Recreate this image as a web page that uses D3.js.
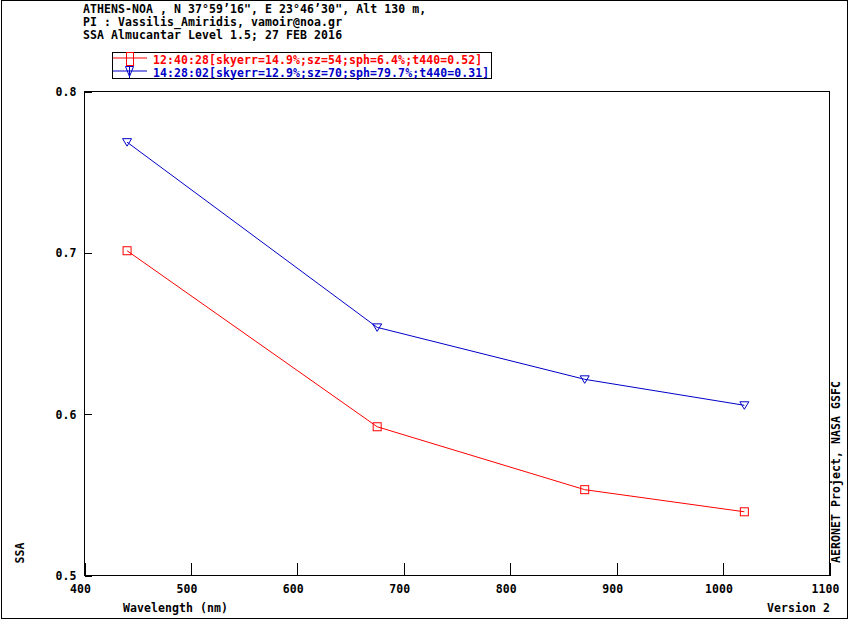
<!DOCTYPE html>
<html lang="en">

<head>
    <meta charset="UTF-8">
    <title>SSA Almucantar - ATHENS-NOA</title>
    <style>
        * {
            margin: 0;
            padding: 0;
        }

        html,
        body {
            overflow: hidden;
            background: #fff;
        }

        text {
            font-family: "DejaVu Sans Mono", monospace;
            font-weight: bold;
            font-size: 11.5px;
            letter-spacing: 0.08px;
        }
    </style>
</head>

<body>
    <div id="chart"></div>
    <script src="https://cdn.jsdelivr.net/npm/d3@7"></script>
    <script>
        // data
        const wavelengths = [440, 675, 870, 1020]
        const ssa1240 = [0.7013, 0.5922, 0.5532, 0.5395]
        const ssa1428 = [0.7686, 0.6538, 0.6216, 0.6055]
        const seriesNames = [
            '12:40:28[skyerr=14.9%;sz=54;sph=6.4%;t440=0.52]',
            '14:28:02[skyerr=12.9%;sz=70;sph=79.7%;t440=0.31]'
        ]
        const xTicks = [400, 500, 600, 700, 800, 900, 1000, 1100]
        const yTicks = [0.5, 0.6, 0.7, 0.8]
        const headerLines = [
            'ATHENS-NOA , N 37°59’16", E 23°46’30", Alt 130 m,',
            'PI : Vassilis_Amiridis, vamoir@noa.gr',
            'SSA Almucantar Level 1.5; 27 FEB 2016'
        ]

        function drawChart() {
            const width = 850
            const height = 620
            const svg = d3.select('#chart')
                .append('svg')
                .attr('width', width)
                .attr('height', height)

            // outer frame
            svg.append('rect')
                .attr('x', 1.5).attr('y', 0.5)
                .attr('width', 846).attr('height', 618)
                .attr('fill', 'none').attr('stroke', '#000')

            const left = 84.5, right = 829.5, top = 91.5, bottom = 575.5
            const x = d3.scaleLinear().domain([400, 1100]).range([left, right])
            const y = d3.scaleLinear().domain([0.5, 0.8]).range([bottom, top])

            // header
            svg.selectAll('text.header')
                .data(headerLines)
                .join('text')
                .attr('class', 'header')
                .attr('x', 83)
                .attr('y', (d, i) => 12.5 + i * 13.3)
                .text(d => d)

            // plot border
            svg.append('rect')
                .attr('x', left).attr('y', top)
                .attr('width', right - left).attr('height', bottom - top)
                .attr('fill', 'none').attr('stroke', '#000')

            // axes
            const gx = svg.append('g')
                .attr('transform', `translate(0,${bottom})`)
                .call(d3.axisBottom(x).tickValues(xTicks).tickSizeInner(-13).tickSizeOuter(0).tickPadding(9).tickFormat(d3.format('d')))
            const gy = svg.append('g')
                .attr('transform', `translate(${left},0)`)
                .call(d3.axisLeft(y).tickValues(yTicks).tickSizeInner(-7).tickSizeOuter(0).tickPadding(8).tickFormat(d3.format('.1f')))
            ;[gx, gy].forEach(g => {
                g.attr('font-family', null).attr('font-size', null)
                g.select('.domain').remove()
                g.selectAll('line').attr('stroke', '#000').attr('shape-rendering', 'crispEdges')
                g.selectAll('text').attr('fill', '#000')
            })
            gx.selectAll('text').attr('dx', -4.5)
            gy.selectAll('text').attr('dy', '0.35em')

            // axis titles
            svg.append('text').attr('x', 123).attr('y', 611.5).text('Wavelength (nm)')
            svg.append('text').attr('x', 830).attr('y', 611.5).attr('text-anchor', 'end').text('Version 2')
            svg.append('text')
                .attr('transform', 'translate(24,553) rotate(-90)')
                .attr('text-anchor', 'middle').text('SSA')
            svg.append('text')
                .attr('transform', 'translate(840,472) rotate(-90)')
                .attr('text-anchor', 'middle').text('AERONET Project, NASA GSFC')

            const series = [
                { name: seriesNames[0], values: ssa1240, color: '#ff0000', shape: 'square' },
                { name: seriesNames[1], values: ssa1428, color: '#0000c8', shape: 'tri' }
            ]

            const line = d3.line()
                .x((d, i) => x(wavelengths[i]))
                .y(d => y(d))

            function marker(g, shape, color) {
                if (shape === 'square') {
                    g.append('rect').attr('x', -4).attr('y', -4).attr('width', 8).attr('height', 8)
                        .attr('fill', 'none').attr('stroke', color)
                } else {
                    g.append('path').attr('d', 'M-4.5,-3.5H4.5L0,4Z')
                        .attr('fill', 'none').attr('stroke', color)
                }
            }

            series.forEach(s => {
                svg.append('path')
                    .datum(s.values)
                    .attr('d', line)
                    .attr('fill', 'none')
                    .attr('stroke', s.color)
                    .attr('stroke-width', 1)
                svg.selectAll(null)
                    .data(s.values)
                    .join('g')
                    .attr('transform', (d, i) => `translate(${x(wavelengths[i])},${y(d)})`)
                    .each(function () { marker(d3.select(this), s.shape, s.color) })
            })

            // legend
            const lg = svg.append('g')
            lg.append('rect')
                .attr('x', 112.5).attr('y', 52.5).attr('width', 379).attr('height', 26)
                .attr('fill', '#fff').attr('stroke', '#000')
            series.forEach((s, i) => {
                const ly = 58 + i * 13
                lg.append('line').attr('x1', 113).attr('x2', 147).attr('y1', ly).attr('y2', ly)
                    .attr('stroke', s.color)
                lg.append('text').attr('x', 153).attr('y', ly + 5.5).attr('fill', s.color).text(s.name)
            })
            lg.append('rect').attr('x', 126.5).attr('y', 52.5).attr('width', 7).attr('height', 13)
                .attr('fill', 'none').attr('stroke', '#ff0000')
            lg.append('path').attr('d', 'M125.5,66.5H133.5L129.5,76.5Z M129.5,66.5V78')
                .attr('fill', 'none').attr('stroke', '#0000c8')
        }

        drawChart()
    </script>
</body>

</html>
